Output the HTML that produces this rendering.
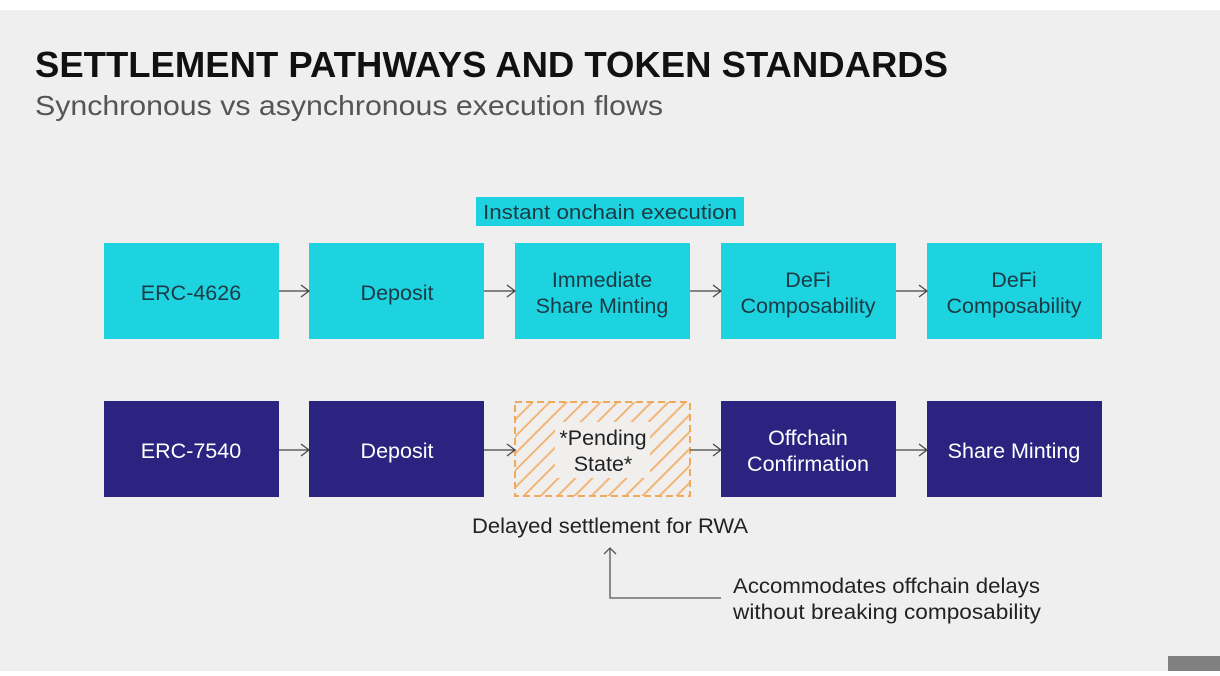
<!DOCTYPE html>
<html><head><meta charset="utf-8"><style>
html,body{margin:0;padding:0;background:#fff}
body{width:1220px;height:671px;overflow:hidden;font-family:"Liberation Sans",sans-serif}
</style></head><body>
<svg width="1220" height="671" viewBox="0 0 1220 671" xmlns="http://www.w3.org/2000/svg" font-family="Liberation Sans, sans-serif">
<defs>
<pattern id="h" patternUnits="userSpaceOnUse" width="12" height="12" patternTransform="rotate(45)">
<rect width="12" height="12" fill="#f0efed"/>
<rect x="0" y="0" width="2" height="12" fill="#f3b577"/>
</pattern>
</defs>
<rect x="0" y="0" width="1220" height="10" fill="#ffffff"/>
<rect x="0" y="10" width="1220" height="661" fill="#efefef"/>
<rect x="1168" y="656" width="52" height="15" fill="#808080"/>
<text x="35" y="77" font-size="36" font-weight="bold" fill="#111" textLength="913" lengthAdjust="spacingAndGlyphs">SETTLEMENT PATHWAYS AND TOKEN STANDARDS</text>
<text x="35" y="115" font-size="28" fill="#555" textLength="628" lengthAdjust="spacingAndGlyphs">Synchronous vs asynchronous execution flows</text>

<rect x="476" y="197" width="268" height="29" fill="#1dd3df"/>
<text x="483" y="219" font-size="20" fill="#1c3a45" textLength="254" lengthAdjust="spacingAndGlyphs">Instant onchain execution</text>

<g fill="#1dd3df">
<rect x="104" y="243" width="175" height="96"/>
<rect x="309" y="243" width="175" height="96"/>
<rect x="515" y="243" width="175" height="96"/>
<rect x="721" y="243" width="175" height="96"/>
<rect x="927" y="243" width="175" height="96"/>
</g>
<g font-size="21.5" fill="#1c3a45" text-anchor="middle">
<text x="191" y="300">ERC-4626</text>
<text x="397" y="300">Deposit</text>
<text x="602" y="287">Immediate</text>
<text x="602" y="313">Share Minting</text>
<text x="808" y="287">DeFi</text>
<text x="808" y="313">Composability</text>
<text x="1014" y="287">DeFi</text>
<text x="1014" y="313">Composability</text>
</g>

<g fill="#2a2480">
<rect x="104" y="401" width="175" height="96"/>
<rect x="309" y="401" width="175" height="96"/>
<rect x="721" y="401" width="175" height="96"/>
<rect x="927" y="401" width="175" height="96"/>
</g>
<rect x="515" y="402" width="175" height="94" fill="url(#h)" stroke="#f0a95a" stroke-width="2" stroke-dasharray="7,4"/>
<rect x="555" y="422" width="95" height="56" fill="#f0efed"/>
<g font-size="21.5" fill="#ffffff" text-anchor="middle">
<text x="191" y="458">ERC-7540</text>
<text x="397" y="458">Deposit</text>
<text x="808" y="445">Offchain</text>
<text x="808" y="471">Confirmation</text>
<text x="1014" y="458">Share Minting</text>
</g>
<g font-size="21.5" fill="#222" text-anchor="middle">
<text x="603" y="445">*Pending</text>
<text x="603" y="471">State*</text>
</g>

<g stroke="#444" stroke-width="1.2" fill="none">
<path d="M279 291H309M301 285L309 291L301 297"/>
<path d="M484 291H515M507 285L515 291L507 297"/>
<path d="M690 291H721M713 285L721 291L713 297"/>
<path d="M896 291H927M919 285L927 291L919 297"/>
<path d="M279 450H309M301 444L309 450L301 456"/>
<path d="M484 450H515M507 444L515 450L507 456"/>
<path d="M690 450H721M713 444L721 450L713 456"/>
<path d="M896 450H927M919 444L927 450L919 456"/>
</g>

<text x="472" y="533" font-size="21.5" fill="#222" textLength="276" lengthAdjust="spacingAndGlyphs">Delayed settlement for RWA</text>
<g stroke="#555" stroke-width="1.3" fill="none">
<path d="M610 548V598H721"/>
<path d="M604 554L610 548L616 554"/>
</g>
<text x="733" y="593" font-size="21.5" fill="#222" textLength="307" lengthAdjust="spacingAndGlyphs">Accommodates offchain delays</text>
<text x="733" y="619" font-size="21.5" fill="#222" textLength="308" lengthAdjust="spacingAndGlyphs">without breaking composability</text>
</svg>
</body></html>
